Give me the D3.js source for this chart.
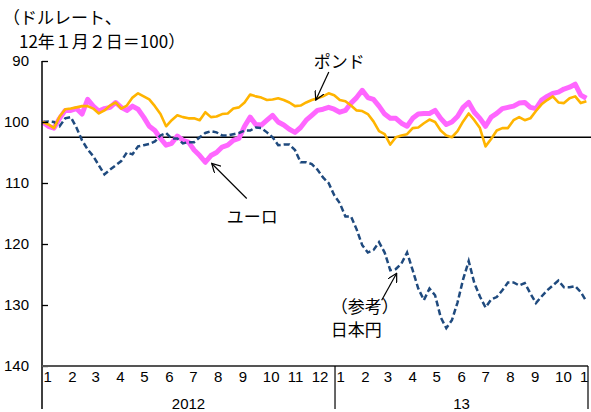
<!DOCTYPE html>
<html>
<head>
<meta charset="utf-8">
<script src="https://cdn.jsdelivr.net/npm/d3@7"></script>
<style>
body { margin: 0; background: #fff; }
</style>
</head>
<body>
<div id="canvas"></div>
<script>
"use strict"

/* Data: weekly readings, index (2012-01-02 = 100), inverted y axis */
let startDate = new Date(2012, 0, 2);

// ポンド (GBP)
let poundValues = [
  100.0, 100.4, 101.0, 99.1, 97.9, 97.8, 97.6, 97.4, 97.4, 97.8,
  98.6, 98.1, 97.3, 96.8, 97.8, 97.3, 96.0, 95.3, 95.8, 96.3,
  97.4, 98.7, 100.7, 99.7, 98.9, 99.2, 99.4, 99.4, 99.7, 98.4,
  99.2, 99.1, 98.7, 98.6, 97.8, 97.6, 96.8, 95.5, 95.8, 96.0,
  96.4, 96.3, 96.1, 96.4, 96.8, 97.4, 97.3, 96.8, 96.4, 96.1,
  95.8, 95.3, 95.6, 96.4, 96.6, 97.3, 98.1, 98.2, 98.7, 99.9,
  101.5, 102.0, 103.7, 102.5, 102.2, 102.0, 101.0, 100.9, 100.2, 99.6,
  100.0, 101.4, 102.2, 102.5, 101.5, 99.9, 98.6, 99.7, 101.0, 104.0,
  102.8, 101.4, 101.0, 101.0, 99.7, 99.2, 99.7, 99.4, 98.2, 97.1,
  96.4, 95.8, 96.8, 96.9, 96.1, 95.8, 96.9, 96.6
];

// ユーロ (EUR)
let euroValues = [
  100.0, 100.7, 101.0, 99.4, 98.1, 98.1, 97.8, 98.7, 96.3, 97.4,
  98.2, 97.8, 97.6, 96.8, 97.6, 98.1, 97.4, 97.9, 99.2, 100.7,
  101.4, 102.7, 103.8, 103.5, 102.3, 103.0, 103.3, 104.6, 105.5, 106.6,
  105.5, 105.0, 104.1, 103.8, 103.0, 102.7, 100.7, 99.2, 100.4, 100.5,
  99.7, 98.9, 100.0, 100.5, 101.2, 101.7, 100.9, 99.7, 98.9, 98.1,
  97.9, 97.6, 97.9, 98.4, 98.1, 96.9, 96.0, 94.8, 96.0, 96.3,
  97.4, 98.7, 99.4, 99.4, 100.2, 100.7, 99.4, 98.7, 98.6, 98.6,
  98.1, 99.4, 100.4, 100.0, 99.1, 97.6, 96.8, 98.4, 99.4, 100.7,
  99.2, 98.6, 97.8, 97.6, 97.4, 96.9, 96.8, 97.6, 97.8, 96.4,
  95.8, 95.3, 95.1, 94.6, 94.3, 93.8, 95.6, 96.1
];

// （参考）日本円 (JPY)
let yenValues = [
  100.0, 99.9, 100.0, 100.7, 99.4, 99.2, 100.9, 103.0, 104.5, 105.6,
  107.1, 108.6, 107.8, 107.1, 106.4, 105.0, 105.3, 104.0, 103.8, 103.6,
  103.2, 102.2, 101.8, 102.7, 102.7, 103.5, 103.3, 103.3, 102.5, 101.8,
  101.5, 101.7, 102.2, 102.2, 102.0, 101.8, 101.4, 101.4, 100.9, 101.0,
  101.7, 102.5, 103.8, 103.7, 103.7, 104.6, 106.6, 106.6, 106.9, 107.8,
  109.1, 110.0, 112.0, 113.3, 115.5, 115.5, 117.6, 120.2, 121.4, 121.0,
  119.7, 121.4, 124.3, 124.1, 123.2, 121.4, 124.3, 127.3, 129.2, 127.3,
  128.4, 132.0, 133.8, 132.5, 129.6, 125.8, 122.8, 126.4, 128.6, 130.4,
  129.1, 128.7, 127.6, 126.3, 126.3, 126.8, 126.4, 128.1, 129.7, 128.6,
  127.6, 126.8, 126.0, 127.1, 127.1, 126.9, 127.9, 129.4
];

let yTicks = [90, 100, 110, 120, 130, 140];
let referenceLevel = 102.5;
// last label is shown cut to "1" at the right edge
let monthLabels = ["1", "2", "3", "4", "5", "6", "7", "8", "9", "10", "11", "12",
                   "1", "2", "3", "4", "5", "6", "7", "8", "9", "10", "1"];
let yearLabels = ["2012", "13"];
let titleLines = ["（ドルレート、", "12年１月２日＝100）"];

// annotations: label, tip (date, value)
let annotations = [
  { lines: ["ポンド"], date: new Date(2012, 11, 8), value: 96.4 },
  { lines: ["ユーロ"], date: new Date(2012, 6, 31), value: 106.8 },
  { lines: ["（参考）", "日本円"], date: new Date(2013, 2, 19), value: 124.8 }
];

/* Drawing config */
let svgWidth = 591;
let svgHeight = 412;
let plot = { left: 42, right: 588, top: 61, bottom: 366 };

let numFont = "'Liberation Sans', Arial, sans-serif";
let jpFont = "'Noto Sans CJK JP', sans-serif";

let svg = d3.select("#canvas")
    .append("svg")
    .attr("width", svgWidth)
    .attr("height", svgHeight);

svg.append("rect")
    .attr("width", svgWidth)
    .attr("height", svgHeight)
    .attr("fill", "#fff");

let dates = poundValues.map(function (v, i) {
    return d3.timeDay.offset(startDate, i * 7);
});

/* Scales */
let xScale = d3.scaleTime()
    .domain([new Date(2012, 0, 1), new Date(2013, 10, 13)])
    .range([plot.left, plot.right]);

let yScale = d3.scaleLinear()
    .domain([90, 140])
    .range([plot.top, plot.bottom]);

/* Reference line */
svg.append("line")
    .attr("x1", xScale(new Date(2012, 0, 10)))
    .attr("x2", svgWidth)
    .attr("y1", yScale(referenceLevel))
    .attr("y2", yScale(referenceLevel))
    .attr("stroke", "#000")
    .attr("stroke-width", 1.3);

/* Lines */
let line = d3.line()
    .x(function (d, i) { return xScale(dates[i]); })
    .y(function (d) { return yScale(d); });

svg.append("path")
    .datum(euroValues)
    .attr("d", line)
    .attr("fill", "none")
    .attr("stroke", "#FF66FF")
    .attr("stroke-width", 5)
    .attr("stroke-linejoin", "round");

svg.append("path")
    .datum(yenValues)
    .attr("d", line)
    .attr("fill", "none")
    .attr("stroke", "#1F4A7E")
    .attr("stroke-width", 2.5)
    .attr("stroke-dasharray", "6,3");

svg.append("path")
    .datum(poundValues)
    .attr("d", line)
    .attr("fill", "none")
    .attr("stroke", "#FFB400")
    .attr("stroke-width", 2.6)
    .attr("stroke-linejoin", "round");

/* Y axis */
let yAxis = d3.axisLeft(yScale)
    .tickValues(yTicks)
    .tickSizeInner(-6)
    .tickSizeOuter(0)
    .tickPadding(13);

let yAxisG = svg.append("g")
    .attr("transform", "translate(" + plot.left + ",0)")
    .call(yAxis);
yAxisG.select(".domain").remove();
yAxisG.selectAll("line").attr("stroke", "#000").attr("stroke-width", 1.3);
yAxisG.selectAll("text")
    .style("font-family", numFont)
    .style("font-size", "15px")
    .attr("fill", "#000");

svg.append("line")
    .attr("x1", plot.left).attr("x2", plot.left)
    .attr("y1", plot.top).attr("y2", 409)
    .attr("stroke", "#000")
    .attr("stroke-width", 1.5);

/* X axis */
svg.append("line")
    .attr("x1", plot.left).attr("x2", plot.right)
    .attr("y1", plot.bottom).attr("y2", plot.bottom)
    .attr("stroke", "#555")
    .attr("stroke-width", 2);

let monthTicks = d3.timeMonth.range(new Date(2012, 0, 1), new Date(2013, 11, 1));
let xAxis = d3.axisBottom(xScale)
    .tickValues(monthTicks)
    .tickSize(0)
    .tickPadding(0)
    .tickFormat(function (d, i) { return monthLabels[i]; });

let xAxisG = svg.append("g")
    .attr("transform", "translate(0," + plot.bottom + ")")
    .call(xAxis);
xAxisG.select(".domain").remove();
xAxisG.selectAll("text")
    .attr("text-anchor", "start")
    .attr("x", 1)
    .attr("y", 5)
    .style("font-family", numFont)
    .style("font-size", "15px")
    .attr("fill", "#000");

// year dividers and labels
let yearStarts = [new Date(2012, 0, 1), new Date(2013, 0, 1)];
let yearEnds = [new Date(2013, 0, 1), new Date(2013, 10, 13)];

svg.selectAll(".year-div")
    .data(yearEnds)
    .join("line")
    .attr("class", "year-div")
    .attr("x1", function (d) { return xScale(d); })
    .attr("x2", function (d) { return xScale(d); })
    .attr("y1", plot.bottom)
    .attr("y2", 409)
    .attr("stroke", "#000")
    .attr("stroke-width", 1.2);

svg.selectAll(".year-label")
    .data(yearLabels)
    .join("text")
    .attr("class", "year-label")
    .attr("x", function (d, i) { return (xScale(yearStarts[i]) + xScale(yearEnds[i])) / 2; })
    .attr("y", 409)
    .attr("text-anchor", "middle")
    .style("font-family", numFont)
    .style("font-size", "15px")
    .text(function (d) { return d; });

/* Title */
svg.selectAll(".title")
    .data(titleLines)
    .join("text")
    .attr("class", "title")
    .attr("x", function (d, i) { return i === 0 ? 3 : 19; })
    .attr("y", function (d, i) { return 24 + i * 24; })
    .style("font-family", jpFont)
    .style("font-size", "17px")
    .text(function (d) { return d; });

/* Annotations */
let defs = svg.append("defs");
defs.append("marker")
    .attr("id", "arrow")
    .attr("viewBox", "0 0 10 10")
    .attr("refX", 9)
    .attr("refY", 5)
    .attr("markerWidth", 10)
    .attr("markerHeight", 10)
    .attr("markerUnits", "userSpaceOnUse")
    .attr("orient", "auto")
    .append("path")
    .attr("d", "M0,0 L9,5 L0,10")
    .attr("fill", "none")
    .attr("stroke", "#000")
    .attr("stroke-width", 1.2);

// tail offsets and label anchors relative to the arrow tip
let annotLayout = [
    { tail: [13, -28], label: [-2, -32] },
    { tail: [35, 35], label: [15, 60] },
    { tail: [-15, 27], label: [-66, 40] }
];

annotations.forEach(function (a, i) {
    let tx = xScale(a.date);
    let ty = yScale(a.value);
    let lay = annotLayout[i];
    svg.append("line")
        .attr("x1", tx + lay.tail[0])
        .attr("y1", ty + lay.tail[1])
        .attr("x2", tx)
        .attr("y2", ty)
        .attr("stroke", "#000")
        .attr("stroke-width", 1.2)
        .attr("marker-end", "url(#arrow)");
    a.lines.forEach(function (t, j) {
        svg.append("text")
            .attr("x", tx + lay.label[0])
            .attr("y", ty + lay.label[1] + j * 23)
            .style("font-family", jpFont)
            .style("font-size", "17px")
            .text(t);
    });
});
</script>
</body>
</html>
